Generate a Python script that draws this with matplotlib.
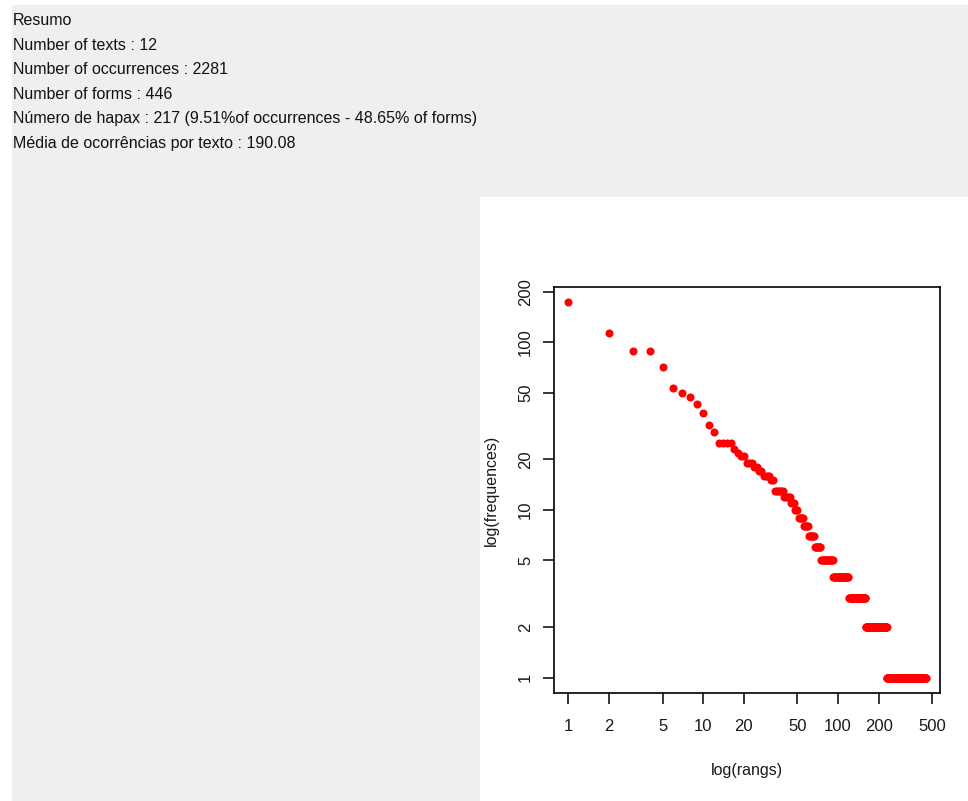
import numpy as np
import matplotlib
matplotlib.use("Agg")
import matplotlib.pyplot as plt
from matplotlib.patches import Rectangle
from matplotlib.ticker import FixedLocator, FixedFormatter, NullLocator

# Summary text shown above the plot
summary_lines = [
    "Resumo",
    "Number of texts : 12",
    "Number of occurrences : 2281",
    "Number of forms : 446",
    "Número de hapax : 217 (9.51%of occurrences - 48.65% of forms)",
    "Média de ocorrências por texto : 190.08",
]

# Rank-frequency data
top_freqs = [173, 113, 89, 89, 71, 53, 50, 47, 43, 38, 32, 29]   # ranks 1..12
run_freqs = [25, 23, 22, 21, 19, 18, 17, 16, 15, 13, 12, 11, 10, 9, 8, 7, 6, 5, 4, 3, 2, 1]
run_counts = [4, 1, 1, 2, 3, 2, 2, 4, 2, 6, 5, 3, 3, 5, 5, 6, 8, 17, 28, 40, 70, 217]

x_ticks = [1, 2, 5, 10, 20, 50, 100, 200, 500]
y_ticks = [1, 2, 5, 10, 20, 50, 100, 200]

freqs = np.concatenate([top_freqs, np.repeat(run_freqs, run_counts)])
ranks = np.arange(1, len(freqs) + 1)

W, H = 968, 801
plt.rcParams['font.family'] = ['Liberation Sans', 'DejaVu Sans']
fig = plt.figure(figsize=(W / 100, H / 100), dpi=100)
fig.patch.set_facecolor('white')

# panel backgrounds (screenshot of the app), kept behind the axes
fig.patches.append(Rectangle((12 / W, 0), (W - 12) / W, (H - 5) / H,
                             transform=fig.transFigure, facecolor='#efefef',
                             edgecolor='none', zorder=-10))
fig.patches.append(Rectangle((480 / W, 0), (W - 480) / W, (H - 197) / H,
                             transform=fig.transFigure, facecolor='white',
                             edgecolor='none', zorder=-9))

for i, line in enumerate(summary_lines):
    fig.text(13 / W, 1 - (25 + 24.6 * i) / H, line, fontsize=11.5,
             color='#111111', va='baseline', ha='left')

# plot area
left, right, top, bottom = 554, 940, 287.3, 692.7
ax = fig.add_axes([left / W, 1 - bottom / H, (right - left) / W, (bottom - top) / H])
ax.set_facecolor('white')
ax.plot(ranks, freqs, 'o', color='red', markersize=5.8, markeredgewidth=0)

ax.set_xscale('log')
ax.set_yscale('log')

# R-style 4% padding in log space
lx = np.log10([ranks.min(), ranks.max()])
ly = np.log10([freqs.min(), freqs.max()])
px = 0.04 * (lx[1] - lx[0])
py = 0.04 * (ly[1] - ly[0])
ax.set_xlim(10 ** (lx[0] - px), 10 ** (lx[1] + px))
ax.set_ylim(10 ** (ly[0] - py), 10 ** (ly[1] + py))

ax.xaxis.set_major_locator(FixedLocator(x_ticks))
ax.xaxis.set_major_formatter(FixedFormatter([str(t) for t in x_ticks]))
ax.yaxis.set_major_locator(FixedLocator(y_ticks))
ax.yaxis.set_major_formatter(FixedFormatter([str(t) for t in y_ticks]))
ax.xaxis.set_minor_locator(NullLocator())
ax.yaxis.set_minor_locator(NullLocator())

for s in ax.spines.values():
    s.set_linewidth(1.2)
    s.set_color('black')
ax.tick_params(axis='both', direction='out', length=8, width=1.1,
               labelsize=12, colors='black', labelcolor='#1a1a1a')
ax.tick_params(axis='x', pad=11)
ax.tick_params(axis='y', pad=7, labelrotation=90)
for lab in ax.get_yticklabels():
    lab.set_va('center')

ax.set_xlabel('log(rangs)', fontsize=11.5, labelpad=21, color='#1a1a1a')
ax.set_ylabel('log(frequences)', fontsize=11.5, labelpad=14, color='#1a1a1a')

fig.savefig('out.png', dpi=100, facecolor=fig.get_facecolor())
